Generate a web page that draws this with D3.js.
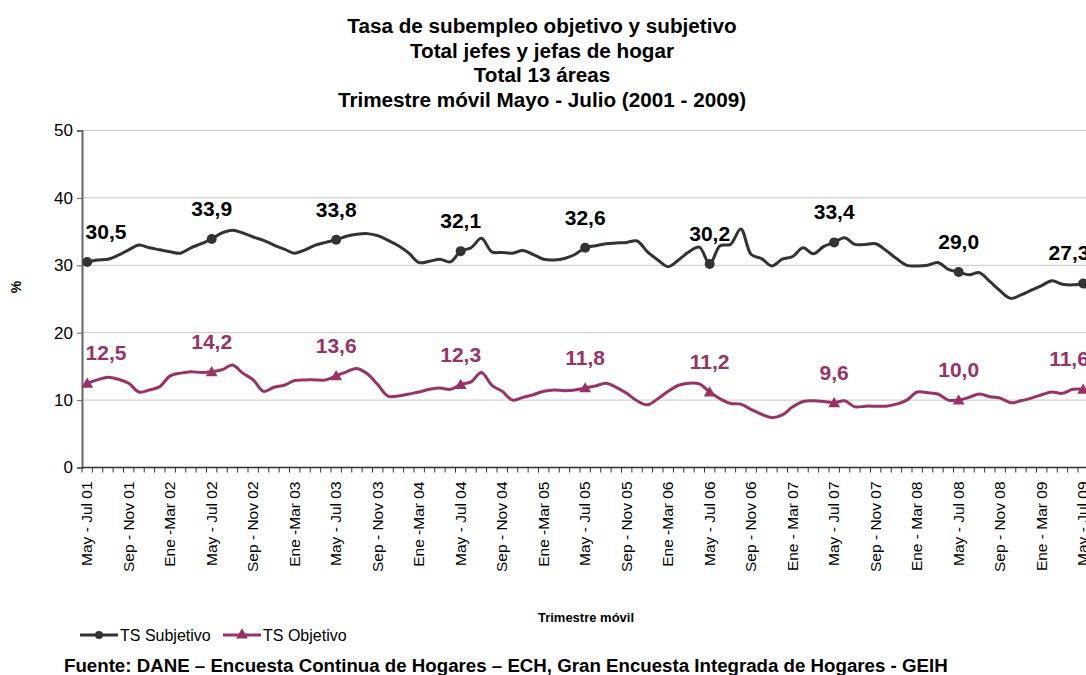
<!DOCTYPE html>
<html>
<head>
<meta charset="utf-8">
<script src="https://cdn.jsdelivr.net/npm/d3@7"></script>
<style>
    html, body { margin: 0; padding: 0; background: #ffffff; }
    svg { display: block; font-family: "Liberation Sans", Arial, sans-serif; }
</style>
</head>
<body>
<svg></svg>
<script>
const width = 1086;
const height = 675;

const titleLines = [
    "Tasa de subempleo objetivo y subjetivo",
    "Total jefes y jefas de hogar",
    "Total 13 áreas",
    "Trimestre móvil Mayo - Julio (2001 - 2009)"
];

// one label every 4 moving quarters (97 quarters in all)
const tickLabels = [
    "May - Jul 01", "Sep - Nov 01", "Ene -Mar 02",
    "May - Jul 02", "Sep - Nov 02", "Ene -Mar 03",
    "May - Jul 03", "Sep - Nov 03", "Ene -Mar 04",
    "May - Jul 04", "Sep - Nov 04", "Ene -Mar 05",
    "May - Jul 05", "Sep - Nov 05", "Ene -Mar 06",
    "May - Jul 06", "Sep - Nov 06", "Ene - Mar 07",
    "May - Jul 07", "Sep - Nov 07", "Ene - Mar 08",
    "May - Jul 08", "Sep - Nov 08", "Ene - Mar 09",
    "May - Jul 09"
];
const tickStep = 4;

const subjetivo = [
    30.5, 30.8, 30.9, 31.5, 32.3, 33.0, 32.6, 32.3, 32.0, 31.8, 32.6, 33.2,
    33.9, 34.8, 35.2, 34.8, 34.2, 33.7, 33.0, 32.4, 31.8, 32.3, 33.0, 33.4,
    33.8, 34.3, 34.6, 34.7, 34.4, 33.7, 32.9, 31.8, 30.4, 30.6, 30.9, 30.5,
    32.1, 32.6, 34.0, 32.0, 31.9, 31.8, 32.2, 31.6, 30.9, 30.8, 31.0, 31.6,
    32.6, 32.9, 33.2, 33.3, 33.4, 33.6, 32.0, 30.8, 29.8, 30.8, 32.0, 32.7,
    30.2, 32.9, 33.1, 35.4, 31.6, 31.0, 29.9, 30.9, 31.3, 32.6, 31.7, 32.8,
    33.4, 34.1, 33.1, 33.1, 33.2, 32.2, 31.0, 30.0, 29.9, 30.0, 30.4, 29.4,
    29.0, 28.6, 28.9, 27.6, 26.2, 25.1, 25.6, 26.3, 27.0, 27.7, 27.2, 27.1,
    27.3
];

const objetivo = [
    12.5, 13.0, 13.4, 13.1, 12.5, 11.2, 11.5, 12.0, 13.6, 14.0, 14.2, 14.1,
    14.2, 14.5, 15.2, 14.0, 13.0, 11.3, 11.9, 12.2, 12.9, 13.0, 13.0, 13.0,
    13.6, 14.2, 14.7, 13.9, 12.3, 10.6, 10.6, 10.9, 11.2, 11.6, 11.8, 11.6,
    12.3, 12.7, 14.1, 12.2, 11.3, 10.0, 10.4, 10.8, 11.3, 11.5, 11.4, 11.5,
    11.8, 12.1, 12.5, 11.9, 11.0, 9.9, 9.3, 10.2, 11.3, 12.2, 12.5, 12.4,
    11.2, 10.2, 9.5, 9.4, 8.6, 7.9, 7.4, 7.8, 9.0, 9.8, 9.9, 9.8,
    9.6, 9.9, 9.0, 9.1, 9.1, 9.1, 9.4, 10.0, 11.2, 11.1, 10.9, 10.0,
    10.0, 10.4, 10.9, 10.5, 10.3, 9.6, 9.9, 10.3, 10.8, 11.2, 11.0, 11.6,
    11.6
];

// May - Jul of each year carries a marker and a value label
const markerStep = 12;

const yTicks = [0, 10, 20, 30, 40, 50];

const series = [
    { name: "TS Subjetivo", values: subjetivo, color: "#333333", marker: "circle" },
    { name: "TS Objetivo", values: objetivo, color: "#993366", marker: "triangle" }
];

const plot = { left: 82, top: 130.5, bottom: 467.5 };
const bandWidth = 10.375;

const svg = d3.select("svg")
    .attr("width", width)
    .attr("height", height)
    .attr("viewBox", [0, 0, width, height]);

svg.append("rect")
    .attr("width", width)
    .attr("height", height)
    .attr("fill", "#ffffff");

const indices = d3.range(subjetivo.length);

const x = d3.scaleBand()
    .domain(indices)
    .range([plot.left, plot.left + bandWidth * indices.length])
    .padding(0);
const cx = i => x(i) + x.bandwidth() / 2;

const y = d3.scaleLinear()
    .domain([0, 50])
    .range([plot.bottom, plot.top]);

// title
svg.append("g")
    .selectAll("text")
    .data(titleLines)
    .join("text")
    .attr("x", 542)
    .attr("y", (d, i) => 33 + i * 24.5)
    .attr("text-anchor", "middle")
    .attr("font-size", "20.7px")
    .attr("font-weight", "bold")
    .attr("fill", "#000")
    .text(d => d);

// gridlines
svg.append("g")
    .selectAll("line")
    .data(yTicks.filter(d => d > 0))
    .join("line")
    .attr("x1", plot.left)
    .attr("x2", width)
    .attr("y1", d => y(d))
    .attr("y2", d => y(d))
    .attr("stroke", "#c8c8c8")
    .attr("stroke-width", 1);

// y axis
const yAxis = svg.append("g")
    .attr("transform", `translate(${plot.left},0)`)
    .call(d3.axisLeft(y).tickValues(yTicks).tickSize(5).tickPadding(4).tickFormat(d3.format("d")));
yAxis.select(".domain").attr("stroke", "#666666").attr("stroke-width", 2);
yAxis.selectAll(".tick line").attr("stroke", "#666666");
yAxis.selectAll(".tick text")
    .attr("font-size", "17px")
    .attr("font-family", "Liberation Sans, Arial, sans-serif")
    .attr("fill", "#000");

svg.append("text")
    .attr("transform", "translate(21,287) rotate(-90)")
    .attr("text-anchor", "middle")
    .attr("font-size", "14px")
    .attr("font-weight", "bold")
    .text("%");

// x axis: tick marks at band edges, labels every 4 bands
const xAxisG = svg.append("g");
xAxisG.append("line")
    .attr("x1", plot.left)
    .attr("x2", width)
    .attr("y1", plot.bottom)
    .attr("y2", plot.bottom)
    .attr("stroke", "#333333")
    .attr("stroke-width", 1.5);
xAxisG.selectAll("line.tick")
    .data(indices)
    .join("line")
    .classed("tick", true)
    .attr("x1", d => x(d))
    .attr("x2", d => x(d))
    .attr("y1", plot.bottom)
    .attr("y2", plot.bottom + 5)
    .attr("stroke", "#333333");
xAxisG.selectAll("text")
    .data(tickLabels)
    .join("text")
    .attr("transform", (d, i) => `translate(${cx(i * tickStep) + 5},${plot.bottom + 14}) rotate(-90)`)
    .attr("text-anchor", "end")
    .attr("font-size", "15.5px")
    .attr("fill", "#000")
    .text(d => d);

svg.append("text")
    .attr("x", 586)
    .attr("y", 622)
    .attr("text-anchor", "middle")
    .attr("font-size", "13px")
    .attr("font-weight", "bold")
    .text("Trimestre móvil");

// lines
const line = d3.line()
    .x((d, i) => cx(i))
    .y(d => y(d))
    .curve(d3.curveCatmullRom.alpha(0.5));

const triangle = d3.symbol().type(d3.symbolTriangle).size(60);

series.forEach(s => {
    svg.append("path")
        .attr("d", line(s.values))
        .attr("fill", "none")
        .attr("stroke", s.color)
        .attr("stroke-width", 3)
        .attr("stroke-linejoin", "round");

    const marked = indices.filter(i => i % markerStep === 0);

    if (s.marker === "circle") {
        svg.append("g")
            .selectAll("circle")
            .data(marked)
            .join("circle")
            .attr("cx", i => cx(i))
            .attr("cy", i => y(s.values[i]))
            .attr("r", 5)
            .attr("fill", s.color);
    } else {
        svg.append("g")
            .selectAll("path")
            .data(marked)
            .join("path")
            .attr("d", triangle)
            .attr("transform", i => `translate(${cx(i)},${y(s.values[i]) + 1})`)
            .attr("fill", s.color);
    }

    svg.append("g")
        .selectAll("text")
        .data(marked)
        .join("text")
        .attr("x", i => Math.min(Math.max(cx(i), 106), 1069))
        .attr("y", i => y(s.values[i]) - 23)
        .attr("text-anchor", "middle")
        .attr("font-size", "21px")
        .attr("font-weight", "bold")
        .attr("fill", s.color === "#333333" ? "#000000" : s.color)
        .text(i => d3.format(".1f")(s.values[i]).replace(".", ","));
});

// legend
const legend = svg.append("g").attr("transform", "translate(80,635)");
const legendX = [0, 143];
series.forEach((s, k) => {
    const g = legend.append("g").attr("transform", `translate(${legendX[k]},0)`);
    g.append("line")
        .attr("x1", 0)
        .attr("x2", 38)
        .attr("stroke", s.color)
        .attr("stroke-width", 3);
    if (s.marker === "circle") {
        g.append("circle").attr("cx", 19).attr("r", 4).attr("fill", s.color);
    } else {
        g.append("path").attr("d", triangle).attr("transform", "translate(19,0)").attr("fill", s.color);
    }
    g.append("text")
        .attr("x", 40)
        .attr("y", 6)
        .attr("font-size", "16px")
        .attr("fill", "#000")
        .text(s.name);
});

svg.append("text")
    .attr("x", 64)
    .attr("y", 672)
    .attr("font-size", "18.7px")
    .attr("font-weight", "bold")
    .text("Fuente: DANE – Encuesta Continua de Hogares – ECH, Gran Encuesta Integrada de Hogares - GEIH");
</script>
</body>
</html>
